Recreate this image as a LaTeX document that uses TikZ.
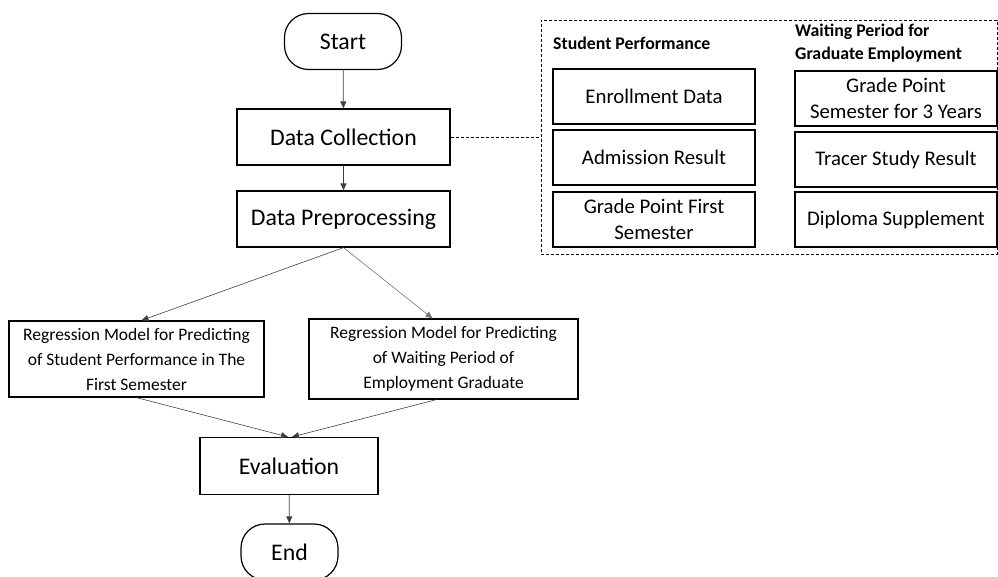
\documentclass[tikz,border=0pt]{standalone}
\usepackage{fontspec}
\setmainfont{Carlito}
\usetikzlibrary{arrows.meta}

\tikzset{
  process/.style={draw, line width=1.2pt, minimum height=56pt, inner sep=0pt, align=center, font=\fontsize{23.8}{27}\selectfont},
  terminal/.style={process, rounded corners=24pt, minimum width=117pt},
  model/.style={process, font=\fontsize{17.5}{25}\selectfont},
  databox/.style={draw, line width=1.1pt, minimum width=202pt, minimum height=55pt, inner sep=0pt, align=center, font=\fontsize{20.8}{25.5}\selectfont},
  heading/.style={font=\bfseries\fontsize{17.8}{22.5}\selectfont, align=left, anchor=west, inner sep=0pt},
  flow/.style={-{Triangle[length=7pt,width=6pt]}, line width=0.8pt, draw=black!75},
  link/.style={dash pattern=on 3pt off 2pt, line width=0.9pt},
}

\begin{document}
\begin{tikzpicture}[x=1pt, y=-1pt]
  \useasboundingbox (0,0) rectangle (998,577);

  % main flow
  \node[terminal] (start) at (343,41.5) {Start};
  \node[process, minimum width=213pt] (collect) at (343.5,137) {Data Collection};
  \node[process, minimum width=213pt] (prep) at (343.5,219) {Data Preprocessing};
  \node[model, minimum width=255pt, minimum height=76pt] (perfmodel) at (136.5,359)
    {Regression Model for Predicting\\of Student Performance in The\\First Semester};
  \node[model, minimum width=269pt, minimum height=80pt] (waitmodel) at (443.5,359)
    {Regression Model for Predicting\\of Waiting Period of\\Employment Graduate};
  \node[process, minimum width=178pt, minimum height=57pt] (eval) at (289,466) {Evaluation};
  \node[terminal, minimum width=97pt] (end) at (289.5,552) {End};

  % data sources
  \node[draw, link, minimum width=456pt, minimum height=234pt] (sources) at (769,137) {};
  \node[heading] (perfhead) at (553,43) {Student Performance};
  \node[heading] (waithead) at (795,43) {Waiting Period for\\Graduate Employment};
  \node[databox] (enroll) at (654,96.5) {Enrollment Data};
  \node[databox] (admit) at (654,157.5) {Admission Result};
  \node[databox] (gpfirst) at (654,219.5) {Grade Point First\\Semester};
  \node[databox] (gpthree) at (896,98.5) {Grade Point\\Semester for 3 Years};
  \node[databox] (tracer) at (896,159.5) {Tracer Study Result};
  \node[databox] (diploma) at (896,219.5) {Diploma Supplement};

  % connectors
  \draw[flow] (start) -- (collect);
  \draw[flow] (collect) -- (prep);
  \draw[link] (collect.east) -- (sources.west);
  \draw[flow, line width=0.6pt] (prep.south) -- ([xshift=5pt]perfmodel.north);
  \draw[flow, line width=0.6pt, draw=black!55] (prep.south) -- ([xshift=-11pt]waitmodel.north);
  \draw[flow, line width=0.6pt] (perfmodel.south) -- ([xshift=-1pt]eval.north);
  \draw[flow, line width=0.6pt] ([xshift=-7pt]waitmodel.south) -- ([xshift=3pt]eval.north);
  \draw[flow] (eval) -- (end);
\end{tikzpicture}
\end{document}
